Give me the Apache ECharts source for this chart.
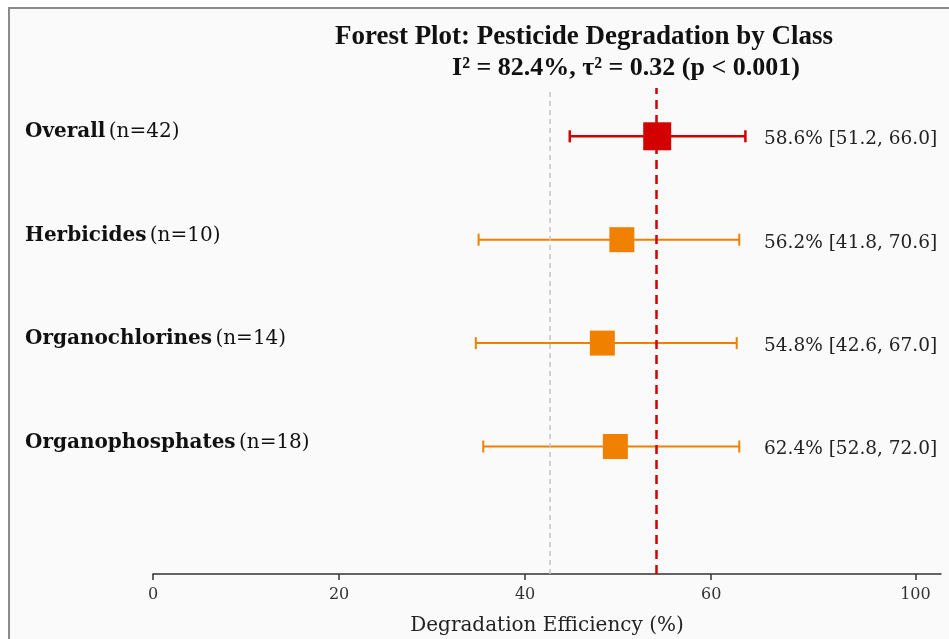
<!DOCTYPE html>
<html>
<head>
<meta charset="utf-8">
<script src="https://cdn.jsdelivr.net/npm/echarts@6/dist/echarts.min.js"></script>
<style>
  html, body { margin: 0; padding: 0; background: #fff; }
  #chart { width: 949px; height: 639px; }
</style>
</head>
<body>
<div id="chart"></div>
<script>
// 数据
const categories = ["Overall", "Herbicides", "Organochlorines", "Organophosphates"];
const counts = [42, 10, 14, 18];
const rowY = [4, 3, 2, 1];
// plotted positions
const estimates = [54.2, 50.4, 48.3, 49.7];
const lower = [44.8, 35.0, 34.7, 35.5];
const upper = [66.7, 65.5, 65.0, 65.5];
// printed text on the right
const labelPct = [58.6, 56.2, 54.8, 62.4];
const labelLo = [51.2, 41.8, 42.6, 52.8];
const labelHi = [66.0, 70.6, 67.0, 72.0];
const pooledLine = 54.05;
const nullLine = 42.7;
const tickValues = [0, 20, 40, 60, 100];

// axis is squeezed after 60
const BREAK = 60, SQUEEZE = 0.549;
const toAxis = (v) => (v <= BREAK ? v : BREAK + (v - BREAK) * SQUEEZE);
const fromAxis = (a) => (a <= BREAK ? a : BREAK + (a - BREAK) / SQUEEZE);

const SERIF = "'Liberation Serif', serif";
const WIDE = "'DejaVu Serif', serif";
const RED = "#d20000";
const ORANGE = "#f08000";
const LABEL_DX = 611; // right text, px from grid left

const chart = echarts.init(document.getElementById("chart"));

const option = {
  backgroundColor: "#ffffff",
  animation: false,
  graphic: [
    {
      type: "rect",
      z: -10,
      silent: true,
      shape: { x: 9, y: 8, width: 980, height: 700 },
      style: { fill: "#fafafa", stroke: "#8a8a8a", lineWidth: 2 },
    },
    {
      type: "text",
      x: 584,
      y: 37,
      style: {
        text: "Forest Plot: Pesticide Degradation by Class",
        font: "bold 27px " + SERIF,
        fill: "#111",
        align: "center",
        verticalAlign: "middle",
      },
    },
    {
      type: "text",
      x: 626,
      y: 68,
      style: {
        text: "I² = 82.4%, τ² = 0.32 (p < 0.001)",
        font: "bold 26px " + SERIF,
        fill: "#111",
        align: "center",
        verticalAlign: "middle",
      },
    },
  ],
  grid: { left: 153, right: 8, top: 88, bottom: 65, outerBoundsMode: "none" },
  xAxis: {
    type: "value",
    min: 0,
    max: toAxis(105),
    name: "Degradation Efficiency (%)",
    nameLocation: "middle",
    nameGap: 42,
    nameTextStyle: { fontFamily: WIDE, fontSize: 20, color: "#222" },
    axisLine: { show: true, onZero: false, lineStyle: { color: "#333", width: 1.5 } },
    axisTick: {
      show: true,
      length: 6,
      customValues: tickValues.map(toAxis),
      lineStyle: { color: "#333", width: 1.5 },
    },
    axisLabel: {
      customValues: tickValues.map(toAxis),
      formatter: (v) => String(Math.round(fromAxis(v))),
      fontFamily: WIDE,
      fontSize: 16,
      color: "#333",
      margin: 13,
    },
    splitLine: { show: false },
  },
  yAxis: {
    type: "value",
    min: -0.233,
    max: 4.467,
    axisLine: { show: false },
    axisTick: { show: false },
    splitLine: { show: false },
    axisLabel: {
      customValues: rowY,
      align: "left",
      margin: 128,
      verticalAlign: "middle",
      padding: [0, 0, 8, 0],
      formatter: (v) => {
        const i = rowY.indexOf(v);
        if (i < 0) return "";
        return "{b|" + categories[i] + "} {n|(n=" + counts[i] + ")}";
      },
      rich: {
        b: { fontFamily: WIDE, fontSize: 20, fontWeight: "bold", color: "#111" },
        n: { fontFamily: WIDE, fontSize: 20, color: "#111" },
      },
    },
  },
  series: [
    {
      type: "custom",
      name: "forest",
      data: categories.map((c, i) => [
        toAxis(estimates[i]), rowY[i], toAxis(lower[i]), toAxis(upper[i]), i,
      ]),
      encode: { x: [0, 2, 3], y: 1 },
      renderItem: (params, api) => {
        const y = api.value(1);
        const i = api.value(4);
        const est = api.coord([api.value(0), y]);
        const lo = api.coord([api.value(2), y]);
        const hi = api.coord([api.value(3), y]);
        const overall = i === 0;
        const color = overall ? RED : ORANGE;
        const lw = overall ? 2.5 : 2;
        const size = overall ? 28 : 25;
        const cap = 6;
        return {
          type: "group",
          children: [
            {
              type: "line",
              shape: { x1: lo[0], y1: lo[1], x2: hi[0], y2: hi[1] },
              style: { stroke: color, lineWidth: lw },
            },
            {
              type: "line",
              shape: { x1: lo[0], y1: lo[1] - cap, x2: lo[0], y2: lo[1] + cap },
              style: { stroke: color, lineWidth: lw },
            },
            {
              type: "line",
              shape: { x1: hi[0], y1: hi[1] - cap, x2: hi[0], y2: hi[1] + cap },
              style: { stroke: color, lineWidth: lw },
            },
            {
              type: "rect",
              z2: 5,
              shape: { x: est[0] - size / 2, y: est[1] - size / 2, width: size, height: size },
              style: { fill: color },
            },
            {
              type: "text",
              style: {
                text: labelPct[i].toFixed(1) + "% [" + labelLo[i].toFixed(1) + ", " + labelHi[i].toFixed(1) + "]",
                x: params.coordSys.x + LABEL_DX,
                y: est[1] + 3,
                font: "18.5px " + WIDE,
                fill: "#222",
                align: "left",
                verticalAlign: "middle",
              },
            },
          ],
        };
      },
      markLine: {
        silent: true,
        symbol: "none",
        label: { show: false },
        data: [
          { xAxis: nullLine, lineStyle: { color: "#c4c4c4", width: 1.5, type: [5, 4] } },
          { xAxis: pooledLine, lineStyle: { color: RED, width: 2.5, type: [9, 6] } },
        ],
      },
      z: 3,
    },
  ],
};

chart.setOption(option);
</script>
</body>
</html>
